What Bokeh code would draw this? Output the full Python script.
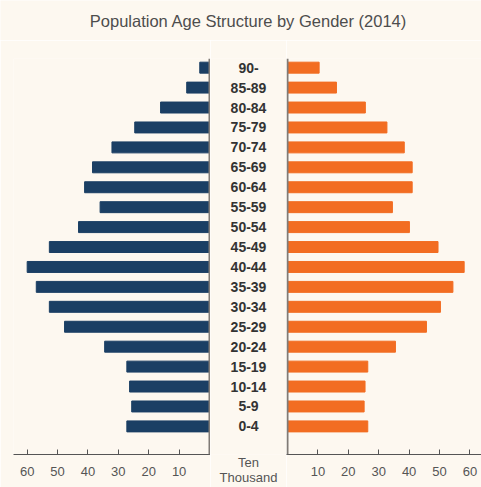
from bokeh.plotting import figure
from bokeh.layouts import column, row
from bokeh.models import Range1d, FixedTicker, Span, ColumnDataSource
from bokeh.core.properties import value
from bokeh.embed import file_html
from bokeh.resources import INLINE

# ---- data (ten thousand persons) ----
age_groups = ["0-4", "5-9", "10-14", "15-19", "20-24", "25-29", "30-34", "35-39",
              "40-44", "45-49", "50-54", "55-59", "60-64", "65-69", "70-74",
              "75-79", "80-84", "85-89", "90-"]
male = [27.2, 25.6, 26.3, 27.2, 34.5, 47.7, 52.7, 57.0, 60.0, 52.7, 43.1, 36.0,
        41.1, 38.5, 32.1, 24.6, 16.1, 7.5, 3.2]
female = [26.4, 25.2, 25.5, 26.4, 35.5, 45.7, 50.3, 54.4, 58.1, 49.5, 40.1, 34.5,
          41.0, 41.0, 38.4, 32.7, 25.6, 16.1, 10.4]
tick_values = [10, 20, 30, 40, 50, 60]
title_text = "Population Age Structure by Gender (2014)"
unit_text = "Ten\nThousand"

# ---- style ----
BG = "#FDF8F0"
MALE_C = "#1B3F64"
FEMALE_C = "#F26D22"
FONT = "Liberation Sans"
AXIS_C = "#555555"
TXT_C = "#555555"

idx = list(range(len(age_groups)))
src = ColumnDataSource(dict(y=idx, age=age_groups, male=male, female=female))

yr = Range1d(-1.41, 18.46)
TOP, BOT = 18, 30
H = 447
W_L, W_M, W_R = 210, 76, 195
W = W_L + W_M + W_R


def style(p):
    p.background_fill_color = BG
    p.border_fill_color = BG
    p.outline_line_color = None
    p.xgrid.visible = False
    p.ygrid.visible = False


def side_axis(p):
    ax = p.xaxis[0]
    ax.ticker = FixedTicker(ticks=tick_values)
    ax.axis_line_color = AXIS_C
    ax.major_tick_line_color = AXIS_C
    ax.major_tick_in = 5
    ax.major_tick_out = 0
    ax.minor_tick_line_color = None
    ax.major_label_text_font = FONT
    ax.major_label_text_font_size = "13px"
    ax.major_label_text_color = TXT_C
    ax.major_label_standoff = 12


# title strip (centred over the middle label column)
tp = figure(width=W, height=40, x_range=Range1d(0, W), y_range=Range1d(0, 1),
            toolbar_location=None, output_backend="svg", x_axis_location=None,
            y_axis_location=None, min_border=0)
style(tp)
tp.text(x=[W_L + W_M / 2], y=[0.5], text=[title_text], text_align="center",
        text_baseline="middle", text_font=value(FONT), text_font_size="16.5px",
        text_color="#4D4D4D")

# left (male)
lp = figure(width=W_L, height=H, x_range=Range1d(64.5, -0.33), y_range=yr,
            toolbar_location=None, output_backend="svg", y_axis_location=None,
            min_border_left=13, min_border_right=0, min_border_top=TOP, min_border_bottom=BOT)
style(lp)
lp.hbar(y="y", left=0, right="male", height=0.55, source=src, color=MALE_C)
lp.add_layout(Span(location=0, dimension="height", line_color="#807b76", line_width=2))
side_axis(lp)

# middle labels
mp = figure(width=W_M, height=H, x_range=Range1d(0, 1), y_range=yr,
            toolbar_location=None, output_backend="svg", y_axis_location=None,
            min_border_left=0, min_border_right=0, min_border_top=TOP, min_border_bottom=BOT)
style(mp)
mp.text(x=0.5, y="y", text="age", source=src, text_align="center",
        text_baseline="middle", text_font=value(FONT), text_font_size="14px",
        text_font_style="bold", text_color="#333333")
max_ = mp.xaxis[0]
max_.ticker = FixedTicker(ticks=[])
max_.axis_line_color = None
max_.major_tick_line_color = None
max_.minor_tick_line_color = None
max_.major_tick_in = 0
max_.major_tick_out = 0
max_.major_label_text_font_size = "0px"
max_.major_label_standoff = 0
max_.axis_label = unit_text
max_.axis_label_standoff = 0
max_.axis_label_text_font = FONT
max_.axis_label_text_font_size = "13px"
max_.axis_label_text_font_style = "normal"
max_.axis_label_text_color = TXT_C
max_.axis_label_text_line_height = 1.0

# right (female)
rp = figure(width=W_R, height=H, x_range=Range1d(-0.33, 63.8), y_range=yr,
            toolbar_location=None, output_backend="svg", y_axis_location=None,
            min_border_left=0, min_border_right=0, min_border_top=TOP, min_border_bottom=BOT)
style(rp)
rp.hbar(y="y", left=0, right="female", height=0.55, source=src, color=FEMALE_C)
rp.add_layout(Span(location=0, dimension="height", line_color="#807b76", line_width=2))
side_axis(rp)

layout = column(tp, row(lp, mp, rp, spacing=0), spacing=0)
html = file_html(layout, INLINE)
html = html.replace("<body>", '<body style="background-color:%s;">' % BG, 1)
open("out.html", "w").write(html)
